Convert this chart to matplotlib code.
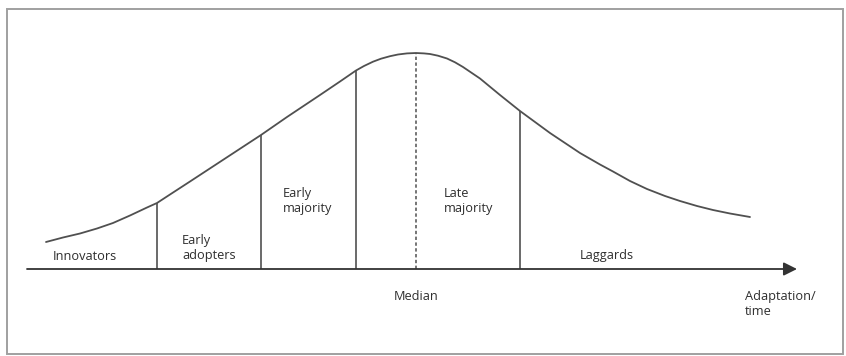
import matplotlib
matplotlib.use("Agg")
import matplotlib.pyplot as plt
from matplotlib.patches import Rectangle

plt.rcParams['font.family'] = ['Open Sans', 'DejaVu Sans']

# Adoption curve (x = time position, y = height above time axis)
curve_x = [46, 63, 80, 97, 113, 130, 147, 157, 170, 190, 210, 230, 250, 261,
           287, 320, 340, 348, 356, 364, 373, 381, 390, 398, 407, 416, 424,
           430, 438, 447, 455, 463, 480, 500, 520, 550, 580, 600, 613, 630,
           647, 665, 680, 697, 713, 730, 750]
curve_y = [27, 31.5, 35.5, 40.5, 46, 53.5, 61.5, 66, 74.5, 87.5, 100.6, 113.7,
           126.8, 134, 152, 174, 187.5, 193, 198.5, 203, 207.3, 210.3, 212.8,
           214.5, 215.6, 216, 215.6, 215, 213.3, 210.5, 206.7, 202, 190.5,
           174, 158, 136, 116, 104.5, 97.5, 88, 80, 73, 68, 63, 59, 55.5, 52]

# Category boundaries and their heights on the curve
boundary_x = [157, 261, 356, 520]
boundary_y = [66, 134, 198.5, 158]
median_x = 416
median_y = 216

axis_start = 27
axis_end = 797

labels = ["Innovators", "Early\nadopters", "Early\nmajority", "Late\nmajority", "Laggards"]
label_x = [53, 182, 283, 444, 580]
label_y = [13, 21, 68, 68, 13]
median_label = "Median"
axis_label = "Adaptation/\ntime"

line_col = "#505050"
text_col = "#2e2e2e"

fig = plt.figure(figsize=(8.46, 3.56), dpi=100)
ax = fig.add_axes([0, 0, 1, 1])
ax.set_xlim(0, 846)
ax.set_ylim(-87, 269)
ax.axis('off')

# frame
fig.patches.append(Rectangle((7 / 846, 2 / 356), 836 / 846, 345 / 356,
                             transform=fig.transFigure, fill=False,
                             edgecolor="#a0a0a0", lw=1.4))

ax.plot(curve_x, curve_y, color=line_col, lw=1.3, solid_capstyle='round',
        solid_joinstyle='round')

ax.vlines(boundary_x, 0, boundary_y, color=line_col, lw=1.2)
ax.vlines([median_x], 0, [median_y], color=line_col, lw=1.1,
          linestyles=[(0, (2.2, 1.6))])

ax.annotate('', xy=(axis_end, 0), xytext=(axis_start, 0),
            arrowprops=dict(arrowstyle='-|>', mutation_scale=20, lw=1.3,
                            color="#333333", shrinkA=0, shrinkB=0))

for t, x, y in zip(labels, label_x, label_y):
    ax.text(x, y, t, ha='left', va='center', fontsize=9.2, color=text_col,
            linespacing=1.18)

ax.text(median_x, -27, median_label, ha='center', va='center', fontsize=9.2,
        color=text_col)
ax.text(745, -35, axis_label, ha='left', va='center', fontsize=9.2,
        color=text_col, linespacing=1.18)

fig.savefig("out.png", dpi=100)
